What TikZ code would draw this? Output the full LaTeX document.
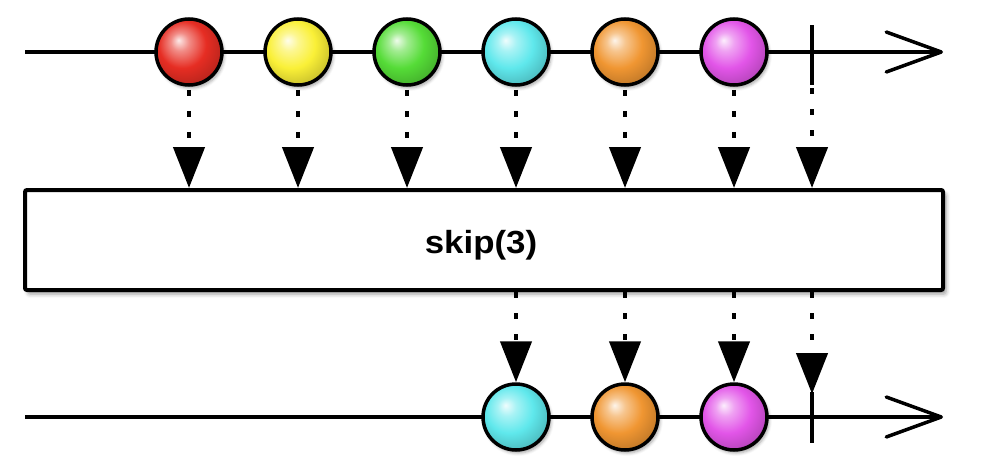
\documentclass[tikz,border=0pt]{standalone}
\usepackage{fontspec}
\usepackage{graphicx}
\setmainfont{Liberation Sans}
\usetikzlibrary{arrows.meta,shadows.blur}
\definecolor{mred}{RGB}{230,45,35}
\definecolor{myellow}{RGB}{250,240,55}
\definecolor{mgreen}{RGB}{85,220,55}
\definecolor{mcyan}{RGB}{95,232,236}
\definecolor{morange}{RGB}{240,150,50}
\definecolor{mmagenta}{RGB}{226,85,232}
\colorlet{marblecol}{mred}
\pgfdeclareradialshading[marblecol]{marble}{\pgfqpoint{-8bp}{9bp}}{%
  color(0bp)=(marblecol!10!white); color(7bp)=(marblecol!55!white);
  color(18bp)=(marblecol); color(30bp)=(marblecol!80!black);
  color(50bp)=(marblecol!55!black)}
\tikzset{
  marble/.style={circle, draw=black, line width=3.5pt, minimum size=66pt, inner sep=0pt,
    /utils/exec={\colorlet{marblecol}{#1}}, shading=marble,
    blur shadow={shadow xshift=2pt, shadow yshift=-3pt, shadow blur radius=3pt, shadow opacity=35}},
  timeline/.style={line width=3.3pt, -{Straight Barb[length=55pt,width=40pt,line width=3.5pt,round]}},
  tickmark/.style={line width=3.5pt},
  dotarr/.style={line width=4.5pt, dash pattern=on 6pt off 15pt, dash phase=#1,
    -{Triangle[length=41pt,width=31pt]}},
  dotarr/.default=0pt,
  opbox/.style={draw=black, line width=4pt, rounded corners=2pt, fill=white,
    minimum width=918pt, minimum height=100pt, inner sep=0pt,
    blur shadow={shadow xshift=3pt, shadow yshift=-4pt, shadow blur radius=4pt, shadow opacity=40}},
  oplabel/.style={font=\bfseries\fontsize{32}{32}\selectfont, inner sep=0pt}
}
\begin{document}
\begin{tikzpicture}[x=1pt,y=-1pt]
\useasboundingbox (0,0) rectangle (1000,471);
% top timeline
\coordinate (ts) at (25,52);
\coordinate (te) at (943,52);
\draw[timeline] (ts) -- (te);
\node[marble=mred] (t1) at (189,52) {};
\node[marble=myellow] (t2) at (298,52) {};
\node[marble=mgreen] (t3) at (407,52) {};
\node[marble=mcyan] (t4) at (516,52) {};
\node[marble=morange] (t5) at (625,52) {};
\node[marble=mmagenta] (t6) at (734,52) {};
\coordinate (tkt) at (812,25);
\coordinate (tkb) at (812,85);
\draw[tickmark] (tkt) -- (tkb);
% operator box
\node[opbox] (op) at (484,240) {};
\node[oplabel] (lbl) at (481,245) {\scalebox{1.09}[1]{skip(3)}};
% arrows into the box
\foreach \n in {t1,t2,t3,t4,t5,t6}
  \draw[dotarr=18pt] (\n.south) -- (\n |- op.north);
\draw[dotarr=18pt] (tkb) -- (tkb |- op.north);
% bottom timeline
\coordinate (bs) at (25,417);
\coordinate (be) at (943,417);
\draw[timeline] (bs) -- (be);
\node[marble=mcyan] (b4) at (516,417) {};
\node[marble=morange] (b5) at (625,417) {};
\node[marble=mmagenta] (b6) at (734,417) {};
\coordinate (bkt) at (812,392);
\coordinate (bkb) at (812,443);
\draw[tickmark] (bkt) -- (bkb);
% arrows out of the box
\foreach \n in {b4,b5,b6}
  \draw[dotarr=0pt] (op.south -| \n) -- (\n.north);
\draw[dotarr=0pt] (op.south -| bkt) -- ([yshift=-2pt]bkt);
\end{tikzpicture}
\end{document}
